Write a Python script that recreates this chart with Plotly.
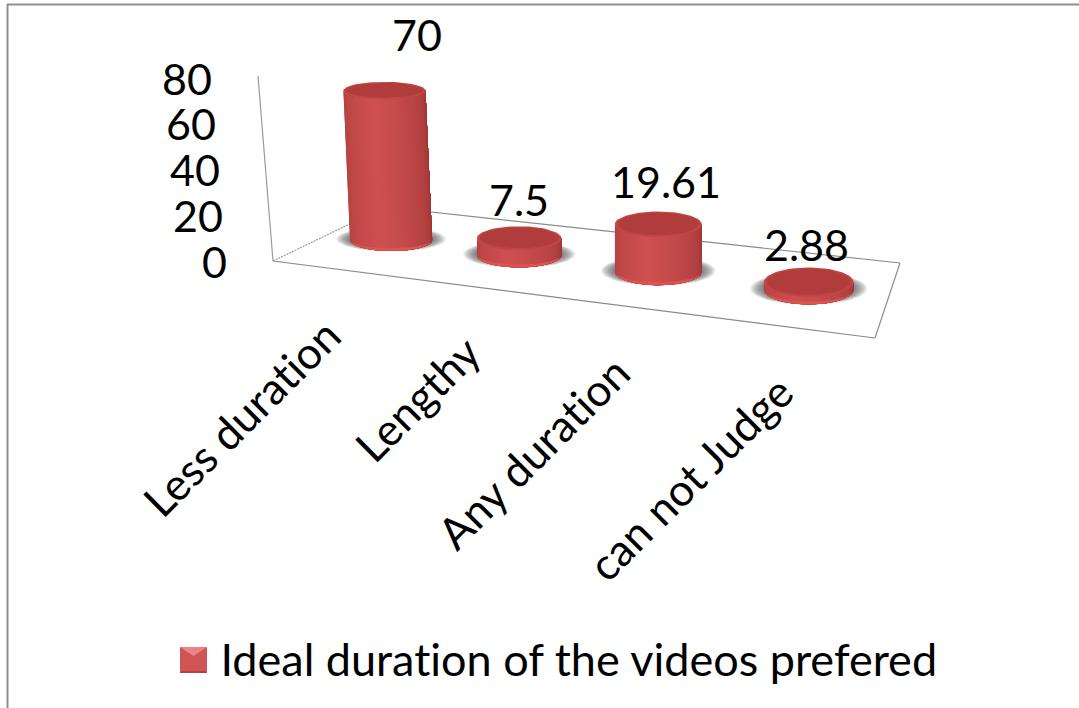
import numpy as np
import plotly.graph_objects as go

categories = ["Less duration", "Lengthy", "Any duration", "can not Judge"]
values = [70, 7.5, 19.61, 2.88]
value_labels = ["70", "7.5", "19.61", "2.88"]
y_ticks = [0, 20, 40, 60, 80]
series_name = "Ideal duration of the videos prefered"

W, H = 1079, 708
FONT = "Lato"
FS = 43
# pixel frame of the picture
ZERO_PX, UNIT_PX = 261.0, 2.287
FL, FR, BL, BR = (273, 261), (875, 338), (385, 207), (900, 263)
WALL_TOP = (258, 76)


def uy(py):
    return (ZERO_PX - np.asarray(py, dtype=float)) / UNIT_PX


def floor(t, d):
    fx, fy = FL[0] + (FR[0] - FL[0]) * t, FL[1] + (FR[1] - FL[1]) * t
    bx, by = BL[0] + (BR[0] - BL[0]) * t, BL[1] + (BR[1] - BL[1]) * t
    return fx + (bx - fx) * d, fy + (by - fy) * d


def mix(c1, c2, a):
    return "rgb(%d,%d,%d)" % tuple(c1[i] + (c2[i] - c1[i]) * a for i in range(3))


fig = go.Figure()


def poly(px, py, color, name=None):
    fig.add_trace(go.Scatter(x=px, y=uy(py), mode="lines", fill="toself", fillcolor=color,
                             line=dict(width=0), hoverinfo="skip", showlegend=False, name=name))


def seg(p, q, color="#9a9a9a", dash="solid", width=1.2):
    fig.add_trace(go.Scatter(x=[p[0], q[0]], y=uy([p[1], q[1]]), mode="lines",
                             line=dict(color=color, width=width, dash=dash),
                             hoverinfo="skip", showlegend=False))


def ellipse(cx, cy, rx, ry, n=72):
    a = np.linspace(0, 2 * np.pi, n)
    return cx + rx * np.cos(a), cy + ry * np.sin(a)


seg(FL, WALL_TOP)
seg(FL, FR, "#8a8a8a")
seg(FR, BR, "#8a8a8a")
seg(BR, BL, "#8a8a8a")
seg(FL, BL, "#9a9a9a", dash="2px,1px")

DARK = (150, 50, 48)
MID = (207, 80, 80)
TOPC = (172, 60, 58)
RIM = (222, 84, 84)
annotations = []

for i, (cat, v, lab) in enumerate(zip(categories, values, value_labels)):
    u = (i + 0.5) / len(values)
    t = u - 0.16 * u * (1 - u)
    bx, by = floor(t, 0.52)
    rx = 40.5 + 5 * t
    ry = 10.5 + 5.0 * t
    h = v * (2.07 + 0.6 * t)
    lean = 0.09 * max(507 - bx, 0) / 234
    tx, ty = bx - lean * h, by - h
    rtop = ry - 0.015 * h

    # soft shadow on the floor
    for k in range(16):
        sx, sy = ellipse(bx, by - 1, rx + 14 - k * 1.0, ry + 1.5 - k * 0.2)
        poly(sx, sy, "rgba(70,70,70,0.07)")

    # body: painted left to right, each strip reaching the right edge
    n = 36
    ang = np.linspace(np.pi, 0, n + 1)
    for k in range(n):
        s = k / (n - 1)
        a = max(0.0, 1 - abs(s - 0.42) / 0.58)
        col = mix(DARK, MID, min(1, a ** 0.55))
        # bottom outline from this strip to the right, then back along the top
        lo = np.linspace(ang[k], 0, 24)
        xb = bx + rx * np.cos(lo)
        yb = by + ry * np.sin(lo)
        xt = tx + rx * np.cos(lo[::-1])
        yt = ty + rtop * np.sin(lo[::-1])
        poly(np.r_[xb, xt, xb[0]], np.r_[yb, yt, yb[0]], col)

    # light rim at the bottom
    lo = np.linspace(np.pi * 0.9, np.pi * 0.1, 30)
    rim_w = min(3.0, 1 + h * 0.2)
    poly(np.r_[bx + rx * np.cos(lo), (bx + rx * np.cos(lo))[::-1]],
         np.r_[by + ry * np.sin(lo), (by + (ry - rim_w) * np.sin(lo))[::-1]],
         mix(MID, RIM, 0.8))

    # top face with a lighter rim
    ex, ey = ellipse(tx, ty, rx, rtop)
    poly(ex, ey, mix(TOPC, RIM, 0.4))
    ex, ey = ellipse(tx, ty - 0.3, rx - 3, rtop - 1.6)
    poly(ex, ey, mix(TOPC, RIM, 0.08), name=cat)

    annotations.append(dict(x=tx + 36 * h / 146 - 4, y=float(uy(ty - 37 - 0.125 * h)), text=lab,
                            showarrow=False, xanchor="center", yanchor="middle"))
    fx, fy = floor(t, 0)
    annotations.append(dict(x=fx + 16, y=float(uy(fy + 36)), text=cat, textangle=-45,
                            showarrow=False, xanchor="right", yanchor="top",
                            font=dict(size=FS + 1)))

for tv in y_ticks:
    py = ZERO_PX - tv * UNIT_PX
    wx = FL[0] + (py - FL[1]) * (FL[0] - WALL_TOP[0]) / (FL[1] - WALL_TOP[1])
    annotations.append(dict(x=wx - 44, y=float(uy(py)), text=str(tv), showarrow=False,
                            xanchor="right", yanchor="middle"))

annotations.append(dict(x=218, y=float(uy(659)), text=series_name, showarrow=False,
                        xanchor="left", yanchor="middle", font=dict(size=FS + 2)))


def pp(*pts):
    return "M " + " L ".join("%f,%f" % (x / W, 1 - y / H) for x, y in pts) + " Z"


shapes = [
    dict(type="line", xref="paper", yref="paper", x0=7.5 / W, x1=7.5 / W, y0=0, y1=1 - 4 / H,
         line=dict(color="#8f8f8f", width=2)),
    dict(type="line", xref="paper", yref="paper", x0=7 / W, x1=1, y0=1 - 4.5 / H, y1=1 - 4.5 / H,
         line=dict(color="#8f8f8f", width=2)),
    dict(type="rect", xref="paper", yref="paper", x0=180 / W, x1=207 / W, y0=1 - 673 / H, y1=1 - 647 / H,
         fillcolor="#cf5453", line=dict(width=0)),
    dict(type="path", xref="paper", yref="paper", path=pp((180, 647), (207, 647), (193.5, 656)),
         fillcolor="#e98585", line=dict(width=0)),
    dict(type="path", xref="paper", yref="paper", path=pp((180, 673), (207, 673), (205, 671), (182, 671)),
         fillcolor="#b04241", line=dict(width=0)),
]

fig.update_layout(
    width=W, height=H, margin=dict(l=0, r=0, t=0, b=0),
    paper_bgcolor="white", plot_bgcolor="white", showlegend=False,
    font=dict(family=FONT, size=FS, color="black"),
    xaxis=dict(range=[0, W], visible=False, fixedrange=True),
    yaxis=dict(range=[float(uy(H)), float(uy(0))], visible=False, fixedrange=True),
    annotations=annotations, shapes=shapes,
)
post = """
var st=document.createElement('style');
st.textContent='text{font-variant-ligatures:none;font-feature-settings:"liga" 0;}';
document.head.appendChild(st);
document.body.style.margin='0';
document.documentElement.style.overflow='hidden';
Plotly.redraw(document.getElementById('{plot_id}'));
"""
fig.write_html("out.html", post_script=post, config=dict(displayModeBar=False))
